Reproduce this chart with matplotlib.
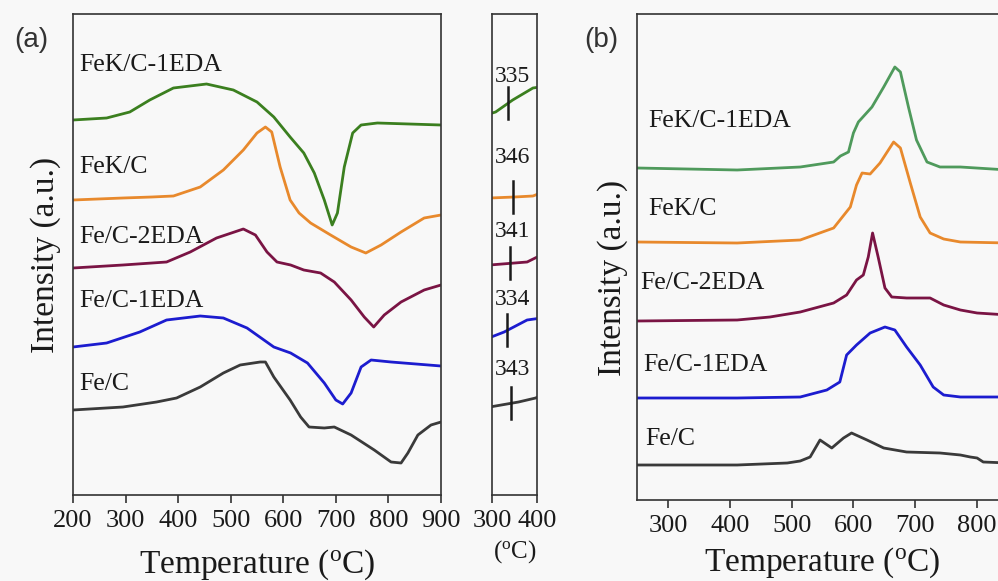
import numpy as np
import matplotlib
matplotlib.use("Agg")
import matplotlib.pyplot as plt

plt.rcParams['font.family'] = ['Liberation Serif', 'DejaVu Serif']
plt.rcParams['mathtext.fontset'] = 'custom'
plt.rcParams['mathtext.rm'] = 'Liberation Serif'
plt.rcParams['mathtext.it'] = 'Liberation Serif:italic'

# ---------------- data: panel (a) ----------------
labels = ["FeK/C-1EDA", "FeK/C", "Fe/C-2EDA", "Fe/C-1EDA", "Fe/C"]

a_green_T = [200, 264, 308, 346, 391, 454, 505, 550, 582, 613, 639, 659, 678, 693, 703, 716, 732, 748, 779, 900]
a_green_I = [375, 377, 383, 395, 407, 411, 405, 393, 378, 358, 342, 322, 295, 270, 282, 328, 362, 370, 372, 370]

a_orange_T = [200, 295, 350, 391, 442, 486, 524, 550, 566, 578, 594, 613, 630, 652, 690, 729, 757, 786, 824, 868, 900]
a_orange_I = [295, 297, 298, 299, 308, 325, 345, 362, 368, 363, 328, 295, 282, 272, 260, 248, 242, 250, 263, 277, 280]

a_purple_T = [200, 295, 378, 423, 473, 524, 547, 569, 588, 614, 639, 671, 697, 729, 754, 772, 792, 824, 868, 900]
a_purple_I = [227, 230, 233, 243, 257, 266, 260, 243, 233, 230, 225, 222, 213, 195, 178, 168, 180, 193, 205, 210]

a_blue_T = [200, 264, 327, 378, 442, 486, 531, 582, 614, 646, 678, 700, 713, 729, 748, 767, 805, 900]
a_blue_I = [148, 152, 163, 175, 179, 177, 167, 148, 142, 132, 112, 95, 91, 102, 128, 135, 133, 129]

a_black_T = [200, 295, 359, 397, 442, 486, 518, 556, 566, 582, 613, 633, 649, 678, 697, 729, 773, 805, 824, 837, 856, 881, 900]
a_black_I = [85, 88, 93, 97, 108, 122, 130, 133, 133, 118, 95, 78, 68, 67, 68, 60, 45, 33, 32, 42, 60, 70, 73]

# onset temperatures marked in the 300-400 inset
onset_T = [335, 346, 341, 334, 343]

# ---------------- data: panel (b) ----------------
b_green_T = [250, 412, 514, 568, 579, 592, 600, 608, 630, 649, 667, 676, 689, 702, 719, 740, 773, 850]
b_green_I = [332, 330, 333, 338, 344, 348, 367, 378, 393, 413, 433, 428, 393, 360, 338, 333, 333, 330]

b_orange_T = [250, 412, 514, 568, 595, 605, 614, 627, 643, 665, 676, 692, 708, 724, 746, 773, 850]
b_orange_I = [258, 257, 260, 272, 293, 315, 327, 326, 337, 358, 352, 317, 283, 267, 261, 258, 257]

b_purple_T = [250, 412, 465, 514, 568, 589, 605, 616, 624, 631, 640, 651, 662, 686, 724, 746, 773, 800, 850]
b_purple_I = [179, 180, 183, 188, 197, 205, 220, 225, 243, 267, 243, 212, 203, 202, 202, 195, 190, 187, 185]

b_blue_T = [250, 412, 514, 557, 578, 589, 605, 627, 651, 667, 686, 708, 729, 746, 773, 850]
b_blue_I = [102, 102, 103, 110, 118, 145, 155, 167, 173, 170, 153, 135, 113, 105, 103, 103]

b_black_T = [250, 412, 493, 514, 530, 546, 565, 584, 597, 622, 649, 686, 740, 773, 789, 800, 810, 850]
b_black_I = [35, 35, 37, 39, 43, 60, 52, 62, 67, 60, 52, 48, 47, 45, 43, 42, 38, 37]

a_colors = ["#3b7f1f", "#e8892c", "#7a1444", "#1c1ccf", "#3a3a3a"]
b_colors = ["#4f9a5c", "#e8892c", "#7a1444", "#1c1ccf", "#3a3a3a"]

W, H = 998, 581
fig = plt.figure(figsize=(W / 100, H / 100), dpi=100, facecolor="#f8f8f8")

def px_axes(l, t, r, b):
    return fig.add_axes([l / W, 1 - b / H, (r - l) / W, (b - t) / H])

spine_c = "#333333"
text_c = "#1a1a1a"

def style(ax):
    ax.set_facecolor("#f8f8f8")
    for s in ax.spines.values():
        s.set_color(spine_c)
        s.set_linewidth(1.2)
    ax.tick_params(axis='x', direction='out', length=6, width=1.2, color=spine_c,
                   labelsize=19, labelcolor=text_c, pad=5)
    ax.tick_params(axis='y', left=False, labelleft=False)

lw = 2.0
# ---------- panel (a) ----------
axa = px_axes(73, 14, 441, 495)
style(axa)
a_series = [(a_green_T, a_green_I), (a_orange_T, a_orange_I), (a_purple_T, a_purple_I),
            (a_blue_T, a_blue_I), (a_black_T, a_black_I)]
for (T, I), c in zip(a_series, a_colors):
    axa.plot(T, I, color=c, lw=lw, solid_joinstyle='round')
axa.set_xlim(200, 900)
axa.set_ylim(0, 481)
axa.set_xticks(range(200, 901, 100))
a_lab_y = [424, 322, 252, 188, 105]
for lab, y in zip(labels, a_lab_y):
    axa.text(211, y, lab, fontsize=18.5, color=text_c, ha='left', va='baseline')
axa.set_xlabel("Temperature ($^{\\rm o}$C)", fontsize=24, color=text_c, va='center')
axa.xaxis.set_label_coords(0.5, (495 - 565) / 481)
axa.set_ylabel("Intensity (a.u.)", fontsize=24, color=text_c, va='center')
axa.yaxis.set_label_coords((46 - 73) / 368, 0.5)

# ---------- inset 300-400 ----------
axi = px_axes(492, 14, 537, 495)
style(axi)
for (T, I), c, t0 in zip(a_series, a_colors, onset_T):
    axi.plot(T, I, color=c, lw=lw)
    yc = np.interp(t0, T, I)
    axi.plot([t0, t0], [yc - 16, yc + 16], color="#1a1a1a", lw=1.8)
axi.set_xlim(300, 400)
axi.set_ylim(0, 481)
axi.set_xticks([300, 400])
in_lab_y = [413, 332, 258, 190, 120]
for t0, y in zip(onset_T, in_lab_y):
    axi.text(346, y, str(t0), fontsize=17, color=text_c, ha='center', va='baseline')
axi.set_xlabel("($^{\\rm o}$C)", fontsize=18, color=text_c, va='center')
axi.xaxis.set_label_coords(0.5, (495 - 552) / 481)

# ---------- panel (b) ----------
axb = px_axes(637, 14, 1008, 500)
style(axb)
b_series = [(b_green_T, b_green_I), (b_orange_T, b_orange_I), (b_purple_T, b_purple_I),
            (b_blue_T, b_blue_I), (b_black_T, b_black_I)]
for (T, I), c in zip(b_series, b_colors):
    axb.plot(T, I, color=c, lw=lw, solid_joinstyle='round')
axb.set_xlim(250, 850)
axb.set_ylim(0, 486)
axb.set_xticks(range(300, 801, 100))
b_lab_x = [268, 268, 255, 260, 264]
b_lab_y = [373, 285, 211, 129, 55]
for lab, x, y in zip(labels, b_lab_x, b_lab_y):
    axb.text(x, y, lab, fontsize=18.5, color=text_c, ha='left', va='baseline')
axb.set_xlabel("Temperature ($^{\\rm o}$C)", fontsize=24, color=text_c, va='center')
axb.xaxis.set_label_coords(0.5, (500 - 563) / 486)
axb.set_ylabel("Intensity (a.u.)", fontsize=24, color=text_c, va='center')
axb.yaxis.set_label_coords((613 - 637) / 371, (500 - 278) / 486)

# panel letters
fig.text(31 / W, 1 - 40 / H, "(a)", fontsize=20, color="#333333", ha='center', va='center',
         family=['Liberation Sans', 'DejaVu Sans'])
fig.text(601 / W, 1 - 40 / H, "(b)", fontsize=20, color="#333333", ha='center', va='center',
         family=['Liberation Sans', 'DejaVu Sans'])

fig.savefig("out.png", dpi=100, facecolor=fig.get_facecolor())
